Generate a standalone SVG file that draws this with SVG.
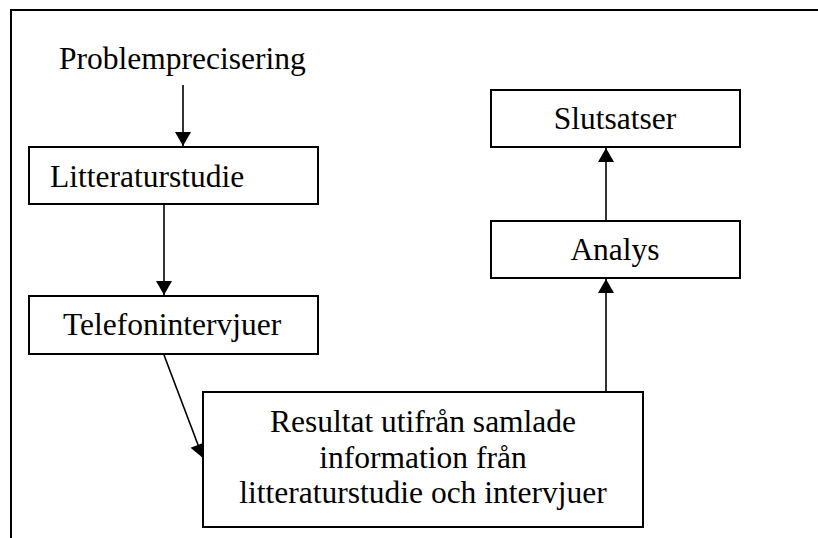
<svg xmlns="http://www.w3.org/2000/svg" width="818" height="538" viewBox="0 0 818 538">
  <style>
    .box { fill: #ffffff; stroke: #000000; stroke-width: 2; }
    .lbl { font-family: "Liberation Serif", "Times New Roman", serif; font-size: 31.5px; fill: #000000; }
    .mid { text-anchor: middle; }
    .conn { stroke: #000000; stroke-width: 1.6; fill: none; marker-end: url(#arrow); }
    .frame { stroke: #000000; stroke-width: 2; fill: none; }
  </style>
  <defs>
    <marker id="arrow" markerUnits="userSpaceOnUse" markerWidth="15" markerHeight="16" viewBox="0 0 14 16" refX="14" refY="8" orient="auto">
      <path d="M0,0 L14,8 L0,16 Z" fill="#000000"/>
    </marker>
  </defs>
  <rect width="818" height="538" fill="#ffffff"/>
  <g id="frame">
    <path class="frame" d="M11,538 L11,10 L818,10"/>
  </g>
  <g id="connectors">
    <line class="conn" x1="183" y1="85" x2="183" y2="146"/>
    <line class="conn" x1="164" y1="204" x2="164" y2="295"/>
    <line class="conn" x1="164" y1="355" x2="203" y2="458"/>
    <line class="conn" x1="606" y1="392" x2="606" y2="279"/>
    <line class="conn" x1="606" y1="222" x2="606" y2="148"/>
  </g>
  <g id="problemprecisering">
    <text class="lbl" x="59" y="69">Problemprecisering</text>
  </g>
  <g id="litteraturstudie">
    <rect class="box" x="29" y="147" width="289" height="57"/>
    <text class="lbl" x="50" y="187">Litteraturstudie</text>
  </g>
  <g id="telefonintervjuer">
    <rect class="box" x="29" y="296" width="289" height="58"/>
    <text class="lbl" x="63" y="335">Telefonintervjuer</text>
  </g>
  <g id="resultat">
    <rect class="box" x="203" y="392" width="440" height="135"/>
    <text class="lbl mid" x="423" y="432">Resultat utifrån samlade</text>
    <text class="lbl mid" x="423" y="468">information från</text>
    <text class="lbl mid" x="423" y="503">litteraturstudie och intervjuer</text>
  </g>
  <g id="analys">
    <rect class="box" x="491" y="221" width="249" height="57"/>
    <text class="lbl mid" x="615" y="260">Analys</text>
  </g>
  <g id="slutsatser">
    <rect class="box" x="491" y="90" width="249" height="57"/>
    <text class="lbl mid" x="615" y="129">Slutsatser</text>
  </g>
</svg>
